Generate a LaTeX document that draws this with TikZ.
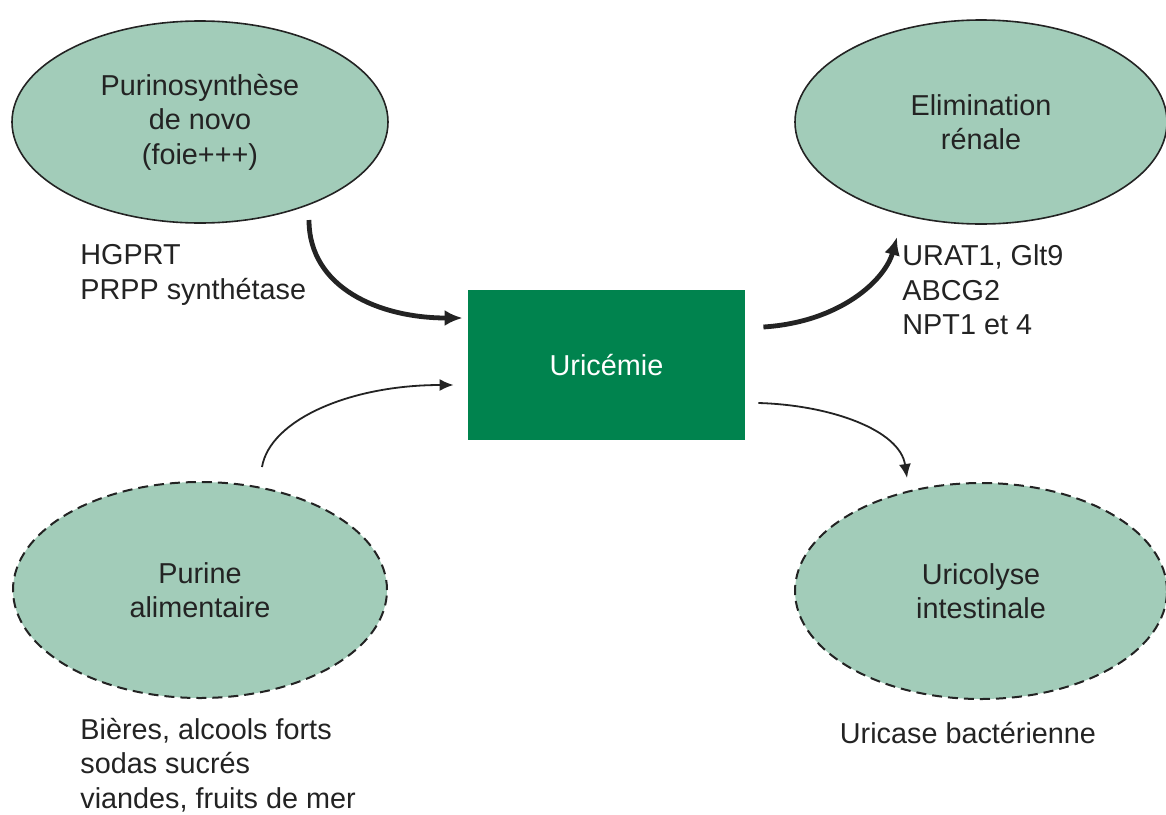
\documentclass[tikz,border=0pt]{standalone}
\usepackage{fontspec}
\setmainfont{Liberation Sans}
\usepackage{tikz}
\usetikzlibrary{arrows.meta,shapes,positioning}
\definecolor{pale}{RGB}{162,204,185}
\definecolor{deepgreen}{RGB}{0,131,78}
\definecolor{ink}{RGB}{35,35,35}
\tikzset{
  pool/.style={ellipse,draw=ink,line width=0.8pt,fill=pale,text=ink,align=center,inner sep=0pt},
  minor/.style={pool,dashed,dash pattern=on 5pt off 3pt,line width=1pt},
  legend/.style={anchor=west,align=left,text=ink,inner sep=0pt},
  bigflow/.style={draw=ink,line width=2.4pt,-{Latex[length=9pt,width=8pt]}},
  smallflow/.style={draw=ink,line width=0.9pt,-{Latex[length=7pt,width=6pt]}}
}
\begin{document}
\begin{tikzpicture}[x=0.5pt,y=-0.5pt,font=\fontsize{14.4}{17.2}\selectfont]
\useasboundingbox (0,0) rectangle (1166,814);

\node[pool,minimum width=188pt,minimum height=101pt] (synth) at (200,122) {Purinosynthèse\\de novo\\(foie+++)};
\node[pool,minimum width=186pt,minimum height=102pt] (elim) at (981,122) {Elimination\\rénale};
\node[minor,minimum width=187pt,minimum height=108pt] (alim) at (200,590) {Purine\\alimentaire};
\node[minor,minimum width=186pt,minimum height=108pt] (colyse) at (981,591) {Uricolyse\\intestinale};

\node[rectangle,fill=deepgreen,text=white,minimum width=138.5pt,minimum height=75pt] (uric) at (606.5,365) {Uricémie};

\node[legend] (enz) at (80,275) {HGPRT\\PRPP synthétase};
\node[legend] (transp) at (902,290) {URAT1, Glt9\\ABCG2\\NPT1 et 4};
\node[legend] (food) at (80,765) {Bières, alcools forts\\sodas sucrés\\viandes, fruits de mer};
\node[text=ink] (bact) at (968,733) {Uricase bactérienne};

\draw[bigflow] ([shift={(109,98)}]synth.center) .. controls ([shift={(109,166)}]synth.center) and ([shift={(-88,-47)}]uric.west) .. ([shift={(-5,-47)}]uric.west);
\draw[bigflow] ([shift={(18,-38)}]uric.east) .. controls ([shift={(95,-43)}]uric.east) and ([shift={(-96,158)}]elim.center) .. ([shift={(-84,115)}]elim.center);
\draw[smallflow] ([shift={(62,-123)}]alim.center) .. controls ([shift={(70,-170)}]alim.center) and ([shift={(-118,20)}]uric.west) .. ([shift={(-14,20)}]uric.west);
\draw[smallflow] ([shift={(13,38)}]uric.east) .. controls ([shift={(85,40)}]uric.east) and ([shift={(-81,-161)}]colyse.center) .. ([shift={(-74,-113)}]colyse.center);

\end{tikzpicture}
\end{document}
